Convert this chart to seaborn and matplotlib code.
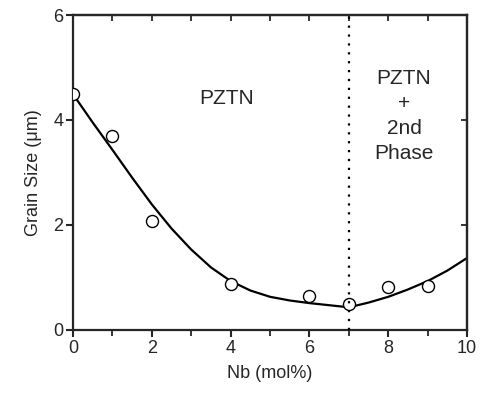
import matplotlib
matplotlib.use("Agg")
import matplotlib.pyplot as plt
import seaborn as sns
import pandas as pd
from matplotlib.ticker import MultipleLocator

# measured grain sizes
nb_measured = [0, 1, 2, 4, 6, 7, 8, 9]
grain_measured = [4.49, 3.70, 2.08, 0.88, 0.65, 0.50, 0.81, 0.84]

# fitted curve
nb_fit = [0, 0.5, 1, 1.5, 2, 2.5, 3, 3.5, 4, 4.5, 5, 5.5, 6, 6.5, 7,
          7.5, 8, 8.5, 9, 9.5, 10]
grain_fit = [4.49, 3.95, 3.43, 2.90, 2.39, 1.93, 1.53, 1.19, 0.93, 0.75,
             0.63, 0.56, 0.51, 0.47, 0.43, 0.52, 0.63, 0.77, 0.93, 1.13, 1.37]

boundary = 7

sns.set_style("ticks")
plt.rcParams['font.family'] = ['Liberation Sans', 'DejaVu Sans']

df_pts = pd.DataFrame({'nb': nb_measured, 'grain': grain_measured})
df_fit = pd.DataFrame({'nb': nb_fit, 'grain': grain_fit})

fig = plt.figure(figsize=(4.84, 3.96), dpi=100)
ax = fig.add_axes([0.151, 0.167, 0.814, 0.795])

sns.lineplot(data=df_fit, x='nb', y='grain', color='black', linewidth=1.6, ax=ax, zorder=2)
sns.scatterplot(data=df_pts, x='nb', y='grain', marker='o', s=75, facecolor='white',
                edgecolor='black', linewidth=1.0, ax=ax, zorder=3)
ax.axvline(boundary, color='black', linewidth=1.6, linestyle=(0, (1, 3)), zorder=4)

ax.set_xlim(0, 10)
ax.set_ylim(0, 6)
ax.xaxis.set_major_locator(MultipleLocator(2))
ax.xaxis.set_minor_locator(MultipleLocator(1))
ax.yaxis.set_major_locator(MultipleLocator(2))
ax.tick_params(axis='both', which='major', direction='out', length=5, width=1.5,
               labelsize=13, pad=2)
ax.tick_params(axis='both', which='minor', direction='out', length=4, width=1.3)

top = ax.secondary_xaxis('top')
top.xaxis.set_major_locator(MultipleLocator(1))
top.tick_params(direction='in', length=4, width=1.3, labeltop=False)
right = ax.secondary_yaxis('right')
right.yaxis.set_major_locator(MultipleLocator(2))
right.tick_params(direction='in', length=4, width=1.3, labelright=False)
for s in list(ax.spines.values()) + [top.spines['top'], right.spines['right']]:
    s.set_linewidth(1.6)

ax.set_xlabel("Nb (mol%)", fontsize=13, labelpad=6)
ax.set_ylabel("Grain Size (\u03bcm)", fontsize=13, labelpad=8)

ax.text(3.9, 4.4, "PZTN", fontsize=15, ha='center', va='center')
ax.text(8.4, 4.08, "PZTN\n+\n2nd\nPhase", fontsize=15, ha='center', va='center',
        linespacing=1.4)

fig.savefig("out.png", dpi=100)
